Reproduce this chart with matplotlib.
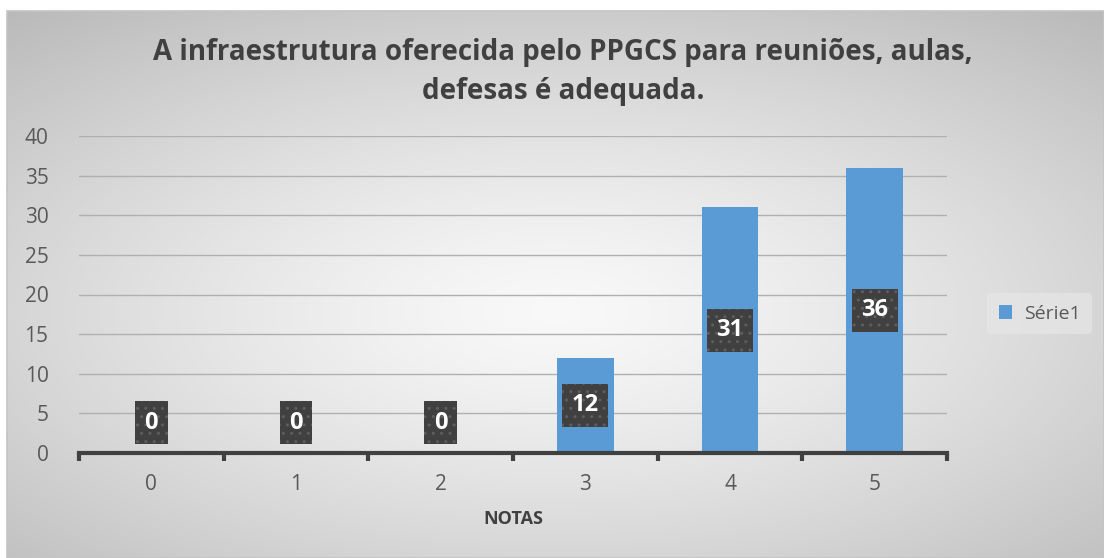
import numpy as np
import matplotlib
matplotlib.use('Agg')
import matplotlib.pyplot as plt
from matplotlib.patches import Rectangle

categories = ['0', '1', '2', '3', '4', '5']
values = [0, 0, 0, 12, 31, 36]
title = 'A infraestrutura oferecida pelo PPGCS para reuniões, aulas,\ndefesas é adequada.'
series_name = 'Série1'
xlabel = 'NOTAS'

plt.rcParams['font.family'] = ['Open Sans', 'DejaVu Sans']

W, H = 1104, 558
fig = plt.figure(figsize=(W / 100, H / 100), dpi=100, facecolor='white')

# gradient background of chart area
bg = fig.add_axes([7 / W, 0, 1 - 7 / W, 1 - 11 / H])
yy, xx = np.mgrid[0:1:300j, 0:1:600j]
r = np.sqrt(((xx - 0.5) * 1.0) ** 2 + ((yy - 0.45) * 1.1) ** 2)
g = 0.975 - 0.34 * np.clip(r, 0, 1) ** 1.3
bg.imshow(np.dstack([g, g, g]), aspect='auto', extent=[0, 1, 0, 1], origin='lower')
bg.set_axis_off()
fig.add_artist(Rectangle((7 / W, 0), 1 - 7 / W, 1 - 11 / H, transform=fig.transFigure,
                         fill=False, edgecolor='#c4c4c4', lw=1.2))

ax = fig.add_axes([79 / W, 1 - 453 / H, 868 / W, 317 / H])
ax.set_facecolor('none')
x = np.arange(len(categories))
ax.bar(x, values, width=0.39, color='#5b9bd5', zorder=2, label=series_name)
ax.set_xlim(-0.5, len(categories) - 0.5)
ax.set_ylim(0, 40)
ax.set_yticks(range(0, 41, 5))
ax.yaxis.grid(True, color='#b0b0b0', lw=1)
ax.set_axisbelow(True)
for s in ['top', 'right', 'left']:
    ax.spines[s].set_visible(False)
ax.spines['bottom'].set_color('#404040')
ax.spines['bottom'].set_linewidth(3)
ax.spines['bottom'].set_zorder(3)
ax.tick_params(axis='y', length=0, labelsize=15, labelcolor='#595959', pad=22)
ax.set_xticks(x)
ax.set_xticklabels(categories)
ax.set_xticks(np.arange(-0.5, len(categories), 1), minor=True)
ax.tick_params(axis='x', which='major', length=0, labelsize=15, labelcolor='#595959', pad=15)
ax.tick_params(axis='x', which='minor', length=6, width=3, color='#404040', direction='out')
ax.set_xlabel(xlabel, fontsize=13, fontweight='bold', color='#404040', labelpad=11)

# data labels
for xi, v in zip(x, values):
    yc = max(v / 2, 3.8)
    ax.annotate(str(v), (xi, yc), ha='center', va='center', fontsize=17, fontweight='bold',
                color='white', zorder=5,
                bbox=dict(boxstyle='square,pad=0.4', facecolor='#404040', edgecolor='#5e5e5e',
                          hatch='..', lw=0))

fig.text(563 / W, 1 - 72 / H, title, ha='center', va='center', fontsize=20,
         fontweight='bold', color='#404040', linespacing=1.45)

leg = ax.legend(loc='center left', bbox_to_anchor=(1.035, 0.44), frameon=True, fontsize=14,
                handlelength=0.7, handleheight=0.7, handletextpad=0.6, borderpad=0.6)
leg.get_frame().set_facecolor('#e6e6e6')
leg.get_frame().set_edgecolor('none')
leg.get_frame().set_alpha(0.7)
for t in leg.get_texts():
    t.set_color('#595959')

fig.savefig('out.png', dpi=100, facecolor='white')
